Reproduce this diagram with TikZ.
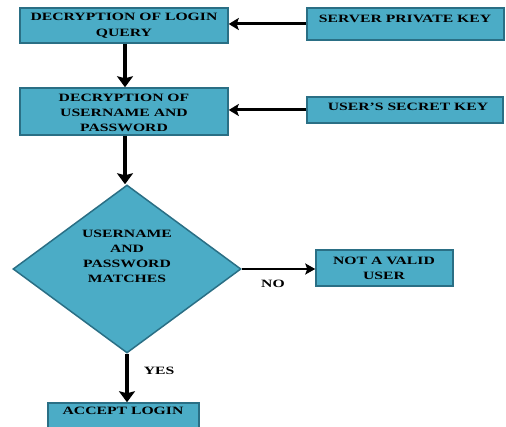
\documentclass[tikz,border=0pt]{standalone}
\usepackage{fontspec}
\setmainfont{Liberation Serif}[FakeStretch=1.4]
\usetikzlibrary{shapes.geometric,arrows.meta}
\definecolor{boxfill}{HTML}{4BACC6}
\definecolor{boxline}{HTML}{2A6F85}
\begin{document}
\begin{tikzpicture}[x=1pt,y=-1pt,
  stepbox/.style={draw=boxline,fill=boxfill,line width=1.5pt,rectangle,inner sep=0pt},
  decbox/.style={draw=boxline,fill=boxfill,line width=1.5pt,diamond,inner sep=0pt,minimum width=228pt,minimum height=168pt},
  txt/.style={font=\fontsize{11.2}{15}\selectfont\bfseries,align=center,inner sep=0pt},
  thickarrow/.style={line width=4pt,-{Stealth[length=11pt,width=16pt,inset=2pt]}},
  medarrow/.style={line width=3pt,-{Stealth[length=10pt,width=12pt,inset=2pt]}},
  thinarrow/.style={line width=2.2pt,-{Stealth[length=10pt,width=11pt,inset=2pt]}}]
\useasboundingbox (0,0) rectangle (506,427);
\begin{scope}
\clip (0,0) rectangle (506,427);
\node[stepbox,minimum width=208pt,minimum height=35pt] (b1) at (124,25.5) {};
\node[stepbox,minimum width=197pt,minimum height=32pt] (b2) at (405.5,24) {};
\node[stepbox,minimum width=208pt,minimum height=47pt] (b3) at (124,111.5) {};
\node[stepbox,minimum width=196pt,minimum height=26pt] (b4) at (405,110) {};
\node[decbox] (d) at (127,269) {};
\node[stepbox,minimum width=137pt,minimum height=36pt] (b5) at (384.5,268) {};
\node[stepbox,minimum width=151pt,minimum height=30pt] (b6) at (123.5,418) {};
\end{scope}
\node[txt,font=\fontsize{11.2}{16}\selectfont\bfseries] (t1) at (124,25.5) {DECRYPTION OF LOGIN\\QUERY};
\node[txt] (t2) at (405,18.5) {SERVER PRIVATE KEY};
\node[txt] (t3) at (124,113) {DECRYPTION OF\\USERNAME AND\\PASSWORD};
\node[txt] (t4) at (408,107) {USER’S SECRET KEY};
\node[txt] (t5) at (127,256) {USERNAME\\AND\\PASSWORD\\MATCHES};
\node[txt] (t6) at (384,268) {NOT A VALID\\USER};
\node[txt] (t7) at (123,411) {ACCEPT LOGIN};
\node[txt] (no) at (273,284) {NO};
\node[txt] (yes) at (159,371) {YES};
\draw[thickarrow] ([xshift=1pt]b1.south) -- ([xshift=1pt]b3.north);
\draw[thickarrow] ([xshift=1pt]b3.south) -- ([xshift=1pt]b3.south |- d.north);
\draw[thickarrow] (d.south) -- (d.south |- b6.north);
\draw[medarrow] (b2.west) -- (b2.west -| b1.east);
\draw[medarrow] (b4.west) -- (b4.west -| b3.east);
\draw[thinarrow] (d.east) -- (d.east -| b5.west);
\end{tikzpicture}
\end{document}
